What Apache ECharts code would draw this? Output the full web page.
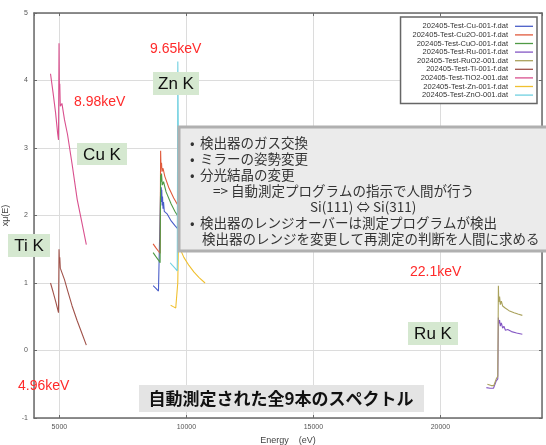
<!DOCTYPE html>
<html>
<head>
<meta charset="utf-8">
<script src="https://cdn.jsdelivr.net/npm/echarts@6/dist/echarts.min.js"></script>
<style>
  html, body { margin: 0; padding: 0; background: #fff; }
  #chart { width: 546px; height: 445px; }
</style>
</head>
<body>
<div id="chart"></div>
<script>
// Series names as listed in the legend
const seriesNames = [
  '202405-Test-Cu-001-f.dat',
  '202405-Test-Cu2O-001-f.dat',
  '202405-Test-CuO-001-f.dat',
  '202405-Test-Ru-001-f.dat',
  '202405-Test-RuO2-001.dat',
  '202405-Test-Ti-001-f.dat',
  '202405-Test-TiO2-001.dat',
  '202405-Test-Zn-001-f.dat',
  '202405-Test-ZnO-001.dat'
];

const seriesColors = ['#4a5ec8', '#e05a3c', '#4f9a45', '#8457c4', '#aaa25c', '#a0524a', '#d9508e', '#f0c030', '#70d0e0'];

// Spectra as [energy (eV), xμ(E)]
const cuData = [[8690,0.96],[8800,0.92],[8900,0.88],[8965,0.86],[8985,2.35],[9000,2.2],[9010,2.42],[9020,2.25],[9030,2.38],[9045,2.15],[9060,2.28],[9080,2.1],[9100,2.2],[9130,2.06],[9160,2.05],[9250,2.02],[9400,1.92],[9550,1.85],[9714,1.78],[9900,1.68]];
const cu2oData = [[8690,1.58],[8800,1.52],[8900,1.47],[8965,1.44],[8985,2.96],[9000,2.7],[9020,2.78],[9040,2.65],[9080,2.7],[9150,2.58],[9300,2.42],[9500,2.26],[9714,2.12],[9900,2.0]];
const cuoData = [[8690,1.45],[8800,1.39],[8900,1.34],[8965,1.30],[8985,2.6],[9000,2.5],[9020,2.62],[9050,2.45],[9100,2.5],[9200,2.35],[9400,2.17],[9550,2.06],[9714,1.96],[9900,1.86]];
const ruData = [[21810,-0.55],[21950,-0.56],[22090,-0.56],[22200,-0.45],[22260,-0.42],[22283,0.49],[22300,0.40],[22330,0.45],[22360,0.36],[22400,0.41],[22450,0.33],[22500,0.36],[22560,0.30],[22650,0.31],[22800,0.28],[23000,0.26],[23226,0.24]];
const ruo2Data = [[21850,-0.50],[22000,-0.52],[22100,-0.52],[22200,-0.42],[22260,-0.38],[22283,0.96],[22300,0.72],[22330,0.80],[22360,0.68],[22400,0.73],[22450,0.66],[22550,0.63],[22700,0.59],[22900,0.56],[23050,0.54],[23226,0.52]];
const tiData = [[4650,1.0],[4750,0.87],[4850,0.73],[4940,0.60],[4965,0.56],[4985,1.5],[5000,1.32],[5015,1.38],[5035,1.22],[5100,1.24],[5200,1.05],[5320,0.89],[5500,0.66],[5700,0.44],[5900,0.24],[6060,0.08]];
const tio2Data = [[4650,4.10],[4750,3.82],[4850,3.52],[4930,3.22],[4965,3.12],[4985,4.55],[5000,3.88],[5015,3.95],[5035,3.62],[5100,3.66],[5200,3.42],[5320,3.2],[5500,2.76],[5700,2.24],[5900,1.87],[6060,1.57]];
const znData = [[9380,0.67],[9480,0.65],[9580,0.63],[9640,0.62],[9660,1.0],[9680,1.44],[9714,1.54],[9760,1.5],[9900,1.38],[10100,1.26],[10300,1.16],[10500,1.08],[10735,1.0]];
const znoData = [[9360,1.30],[9450,1.26],[9550,1.22],[9640,1.18],[9662,4.28],[9680,3.3],[9720,3.12],[9800,3.02],[10000,2.82],[10300,2.57],[10600,2.38]];

const seriesData = [cuData, cu2oData, cuoData, ruData, ruo2Data, tiData, tio2Data, znData, znoData];

// Axis ranges
const xMin = 4000, xMax = 24000;
const yMin = -1, yMax = 5, yStep = 1;

const boxLines = [
  { x: 190, y: 143, t: '•' },
  { x: 200, y: 143, t: '検出器のガス交換' },
  { x: 190, y: 159, t: '•' },
  { x: 200, y: 159, t: 'ミラーの姿勢変更' },
  { x: 190, y: 175, t: '•' },
  { x: 200, y: 175, t: '分光結晶の変更' },
  { x: 213, y: 191, t: '=> 自動測定プログラムの指示で人間が行う' },
  { x: 310, y: 207, t: 'Si(111) ⇔ Si(311)' },
  { x: 190, y: 223, t: '•' },
  { x: 200, y: 223, t: '検出器のレンジオーバーは測定プログラムが検出' },
  { x: 202, y: 239, t: '検出器のレンジを変更して再測定の判断を人間に求める' }
];

const chart = echarts.init(document.getElementById('chart'), null, { renderer: 'canvas' });

const axisGray = '#6a6a6a';
const gridGray = '#dcdcdc';
const labelFont = { fontSize: 7, color: '#555', fontFamily: 'Liberation Sans' };

function redText(x, y, t) {
  return { type: 'text', z: 110, style: { x: x, y: y, text: t, fill: '#ff2a2a', font: '14px "Liberation Sans"', textVerticalAlign: 'middle' } };
}
function tagBox(x, y, w, h, t) {
  return [
    { type: 'rect', z: 105, shape: { x: x, y: y, width: w, height: h }, style: { fill: '#d5e8d0' } },
    { type: 'text', z: 110, style: { x: x + w / 2, y: y + h / 2 + 1, text: t, fill: '#111', font: '17px "Liberation Sans"', textAlign: 'center', textVerticalAlign: 'middle' } }
  ];
}

const graphics = [
  { type: 'rect', z: 100, shape: { x: 179, y: 127, width: 372, height: 124 }, style: { fill: '#ebebeb', stroke: '#b0b0b0', lineWidth: 3 } }
];
boxLines.forEach(l => graphics.push({ type: 'text', z: 110, style: { x: l.x, y: l.y, text: l.t, fill: '#333', font: '13.5px "Noto Sans CJK JP"', textVerticalAlign: 'middle' } }));
graphics.push(redText(150, 49, '9.65keV'));
graphics.push(redText(74, 102, '8.98keV'));
graphics.push(redText(18, 386, '4.96keV'));
graphics.push(redText(410, 272, '22.1keV'));
graphics.push(...tagBox(153, 72, 46, 23, 'Zn K'));
graphics.push(...tagBox(77, 143, 50, 22, 'Cu K'));
graphics.push(...tagBox(8, 234, 42, 23, 'Ti K'));
graphics.push(...tagBox(408, 322, 50, 23, 'Ru K'));
graphics.push({ type: 'rect', z: 105, shape: { x: 139, y: 385, width: 285, height: 27 }, style: { fill: '#e4e4e4' } });
graphics.push({ type: 'text', z: 110, style: { x: 281, y: 399, text: '自動測定された全9本のスペクトル', fill: '#111', font: 'bold 17px "Noto Sans CJK JP"', textAlign: 'center', textVerticalAlign: 'middle' } });

const plainNum = v => String(v);

const option = {
  animation: false,
  backgroundColor: '#fff',
  grid: { left: 34, right: 4, top: 13, bottom: 27, outerBoundsMode: 'none', containLabel: false },
  legend: {
    data: seriesNames.map(n => ({ name: n, icon: 'rect' })),
    orient: 'vertical',
    right: 9,
    top: 17,
    align: 'right',
    itemWidth: 18,
    itemHeight: 1.3,
    itemGap: 0,
    padding: [5, 4, 4, 12],
    backgroundColor: '#fff',
    borderColor: '#666',
    borderWidth: 1.5,
    textStyle: { fontSize: 7.5, lineHeight: 8.6, color: '#333', fontFamily: 'Liberation Sans', padding: [0, 2, 0, 0] },
    z: 120
  },
  xAxis: [
    {
      type: 'value', min: xMin, max: xMax, splitNumber: 4,
      name: 'Energy    (eV)', nameLocation: 'middle', nameGap: 17,
      nameTextStyle: { fontSize: 9, color: '#444', fontFamily: 'Liberation Sans' },
      axisLine: { onZero: false, lineStyle: { color: axisGray, width: 1.5 } },
      axisTick: { inside: true, length: 3, lineStyle: { color: axisGray } },
      axisLabel: Object.assign({ showMinLabel: false, showMaxLabel: false, margin: 6, formatter: plainNum }, labelFont),
      splitLine: { show: true, lineStyle: { color: gridGray, width: 1 } }
    },
    {
      type: 'value', min: xMin, max: xMax, splitNumber: 4, position: 'top',
      axisLine: { onZero: false, lineStyle: { color: axisGray, width: 1.5 } },
      axisTick: { inside: true, length: 3, lineStyle: { color: axisGray } },
      axisLabel: { show: false }, splitLine: { show: false }
    }
  ],
  yAxis: [
    {
      type: 'value', min: yMin, max: yMax, interval: yStep,
      name: 'xμ(E)', nameLocation: 'middle', nameGap: 24, nameMoveOverlap: false,
      nameTextStyle: { fontSize: 9, color: '#444', fontFamily: 'Liberation Sans' },
      axisLine: { show: true, onZero: false, lineStyle: { color: axisGray, width: 1.5 } },
      axisTick: { show: true, inside: true, length: 3, lineStyle: { color: axisGray } },
      axisLabel: Object.assign({ margin: 6, formatter: plainNum }, labelFont),
      splitLine: { show: true, lineStyle: { color: gridGray, width: 1 } }
    },
    {
      type: 'value', min: yMin, max: yMax, interval: yStep, position: 'right',
      axisLine: { show: true, onZero: false, lineStyle: { color: axisGray, width: 1.5 } },
      axisTick: { show: true, inside: true, length: 3, lineStyle: { color: axisGray } },
      axisLabel: { show: false }, splitLine: { show: false }
    }
  ],
  series: seriesNames.map((name, i) => ({
    name: name,
    type: 'line',
    xAxisIndex: 0,
    yAxisIndex: 0,
    data: seriesData[i],
    symbol: 'none',
    color: seriesColors[i],
    lineStyle: { width: 1.1, color: seriesColors[i] },
    z: 2
  })),
  graphic: graphics
};

chart.setOption(option);
</script>
</body>
</html>
